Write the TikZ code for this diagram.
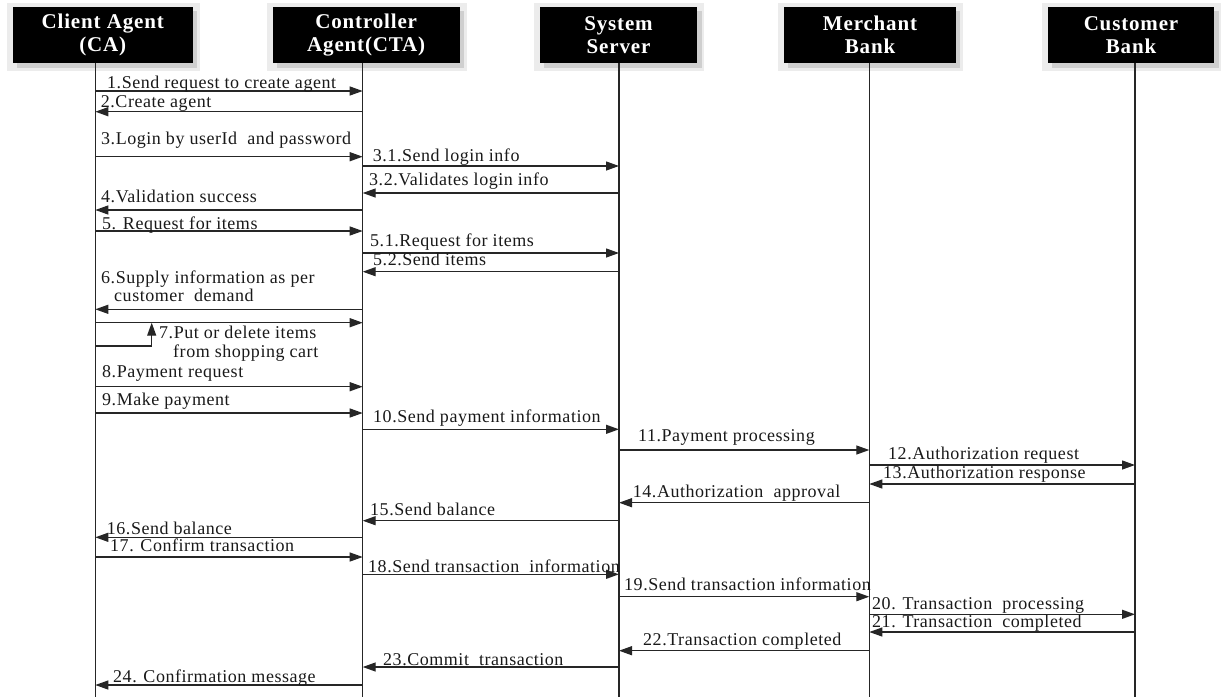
\documentclass[tikz,border=0pt]{standalone}
\usepackage{fontspec}
\setmainfont{Liberation Serif}
\newfontfamily\lblfont[LetterSpace=3]{Liberation Serif}
\newfontfamily\hdrfont[LetterSpace=4]{Liberation Serif}
\usetikzlibrary{arrows.meta,backgrounds}
\begin{document}
\begin{tikzpicture}[x=1pt,y=-1pt,
  actor/.style={fill=black, text=white, font=\hdrfont\bfseries\fontsize{21}{23.4}\selectfont,
    align=center, inner sep=0pt, minimum height=55.4pt},
  life/.style={line width=1.3pt, draw=black!85},
  msg/.style={line width=1.3pt, draw=black!85, -{Triangle[length=13pt,width=9pt]}},
  lbl/.style={font=\lblfont\fontsize{18}{21}\selectfont, inner sep=0pt, anchor=base west, text=black!90},
  shlight/.style={fill=gray!15},
  shdark/.style={fill=gray!38},
]
\useasboundingbox (0,0) rectangle (1223,697);

% actor boxes
\node[actor, minimum width=180pt] (ca)  at (102.7,35)  {Client Agent\\(CA)};
\node[actor, minimum width=187pt] (cta) at (366.2,35)  {Controller\\Agent(CTA)};
\node[actor, minimum width=157pt] (ss)  at (618.5,35) {System\\Server};
\node[actor, minimum width=171.5pt] (mb) at (870,35) {Merchant\\Bank};
\node[actor, minimum width=166pt] (cb)  at (1131,35) {Customer\\Bank};

\begin{scope}[on background layer]
  \foreach \n in {ca,cta,ss,mb,cb}{
    \fill[shlight] ([xshift=-6pt,yshift=4pt]\n.north west) rectangle ([xshift=7pt,yshift=-8pt]\n.south east);
    \fill[shdark] ([xshift=4pt,yshift=-4pt]\n.north west) rectangle ([xshift=4.5pt,yshift=-5pt]\n.south east);
  }
\end{scope}

% lifelines
\coordinate (bot) at (0,697);
\coordinate (Lca) at (95.3,62.7);
\coordinate (Lcta) at (362.7,62.7);
\coordinate (Lss) at (619,62.7);
\coordinate (Lmb) at (869.3,62.7);
\coordinate (Lcb) at (1135,62.7);
\foreach \l in {Lca,Lcta,Lss,Lmb,Lcb}{ \draw[life] (\l) -- (\l |- bot); }

% message rows
\coordinate (r1) at (0,91);
\coordinate (r2) at (0,111.7);
\coordinate (r3) at (0,156.7);
\coordinate (r31) at (0,166);
\coordinate (r32) at (0,193);
\coordinate (r4) at (0,210);
\coordinate (r5) at (0,231);
\coordinate (r51) at (0,253);
\coordinate (r52) at (0,271.7);
\coordinate (r6) at (0,309.3);
\coordinate (r7a) at (0,322.7);
\coordinate (r7b) at (0,346);
\coordinate (k7) at (151.7,346);
\coordinate (r8) at (0,386.7);
\coordinate (r9) at (0,413);
\coordinate (r10) at (0,429.3);
\coordinate (r11) at (0,450);
\coordinate (r12) at (0,465);
\coordinate (r13) at (0,484);
\coordinate (r14) at (0,502.7);
\coordinate (r15) at (0,520.7);
\coordinate (r16) at (0,537.3);
\coordinate (r17) at (0,557);
\coordinate (r18) at (0,574.3);
\coordinate (r19) at (0,596.7);
\coordinate (r20) at (0,614.3);
\coordinate (r21) at (0,632);
\coordinate (r22) at (0,650.7);
\coordinate (r23) at (0,667);
\coordinate (r24) at (0,685);

\draw[msg] (Lca |- r1) -- (Lcta |- r1);
\draw[msg] (Lcta |- r2) -- (Lca |- r2);
\draw[msg] (Lca |- r3) -- (Lcta |- r3);
\draw[msg] (Lcta |- r31) -- (Lss |- r31);
\draw[msg] (Lss |- r32) -- (Lcta |- r32);
\draw[msg] (Lcta |- r4) -- (Lca |- r4);
\draw[msg] (Lca |- r5) -- (Lcta |- r5);
\draw[msg] (Lcta |- r51) -- (Lss |- r51);
\draw[msg] (Lss |- r52) -- (Lcta |- r52);
\draw[msg] (Lcta |- r6) -- (Lca |- r6);
\draw[msg] (Lca |- r7a) -- (Lcta |- r7a);
\draw[msg] (Lca |- r7b) -- (k7) -- (k7 |- r7a);
\draw[msg] (Lca |- r8) -- (Lcta |- r8);
\draw[msg] (Lca |- r9) -- (Lcta |- r9);
\draw[msg] (Lcta |- r10) -- (Lss |- r10);
\draw[msg] (Lss |- r11) -- (Lmb |- r11);
\draw[msg] (Lmb |- r12) -- (Lcb |- r12);
\draw[msg] (Lcb |- r13) -- (Lmb |- r13);
\draw[msg] (Lmb |- r14) -- (Lss |- r14);
\draw[msg] (Lss |- r15) -- (Lcta |- r15);
\draw[msg] (Lcta |- r16) -- (Lca |- r16);
\draw[msg] (Lca |- r17) -- (Lcta |- r17);
\draw[msg] (Lcta |- r18) -- (Lss |- r18);
\draw[msg] (Lss |- r19) -- (Lmb |- r19);
\draw[msg] (Lmb |- r20) -- (Lcb |- r20);
\draw[msg] (Lcb |- r21) -- (Lmb |- r21);
\draw[msg] (Lmb |- r22) -- (Lss |- r22);
\draw[msg] (Lss |- r23) -- (Lcta |- r23);
\draw[msg] (Lcta |- r24) -- (Lca |- r24);

% labels
\node[lbl] (t1) at (107,88) {1.Send request to create agent};
\node[lbl] (t2) at (100.7,107.7) {2.Create agent};
\node[lbl] (t3) at (101,144) {3.Login by userId\ \ and password};
\node[lbl] (t31) at (372.7,161.7) {3.1.Send login info};
\node[lbl] (t32) at (369,185) {3.2.Validates login info};
\node[lbl] (t4) at (101,202.7) {4.Validation success};
\node[lbl] (t5) at (102,229) {5. Request for items};
\node[lbl] (t51) at (370,246.7) {5.1.Request for items};
\node[lbl] (t52) at (373,265) {5.2.Send items};
\node[lbl] (t6a) at (101,283.5) {6.Supply information as per};
\node[lbl] (t6b) at (114,301.7) {customer\ \ demand};
\node[lbl] (t7a) at (159,338.3) {7.Put or delete items};
\node[lbl] (t7b) at (173,357) {from shopping cart};
\node[lbl] (t8) at (102,377) {8.Payment request};
\node[lbl] (t9) at (102,405) {9.Make payment};
\node[lbl] (t10) at (373,422.7) {10.Send payment information};
\node[lbl] (t11) at (638,441.7) {11.Payment processing};
\node[lbl] (t12) at (888,459.3) {12.Authorization request};
\node[lbl] (t13) at (883,478.3) {13.Authorization response};
\node[lbl] (t14) at (632.7,497.3) {14.Authorization\ \ approval};
\node[lbl] (t15) at (370,515) {15.Send balance};
\node[lbl] (t16) at (106.7,534) {16.Send balance};
\node[lbl] (t17) at (110,551.7) {17. Confirm transaction};
\node[lbl] (t18) at (368,572) {18.Send transaction\ \ information};
\node[lbl] (t19) at (624,590) {19.Send transaction information};
\node[lbl] (t20) at (872,609) {20. Transaction\ \ processing};
\node[lbl] (t21) at (872,627.7) {21. Transaction\ \ completed};
\node[lbl] (t22) at (643,645) {22.Transaction completed};
\node[lbl] (t23) at (383,665) {23.Commit\ \ transaction};
\node[lbl] (t24) at (113,682) {24. Confirmation message};
\end{tikzpicture}
\end{document}
